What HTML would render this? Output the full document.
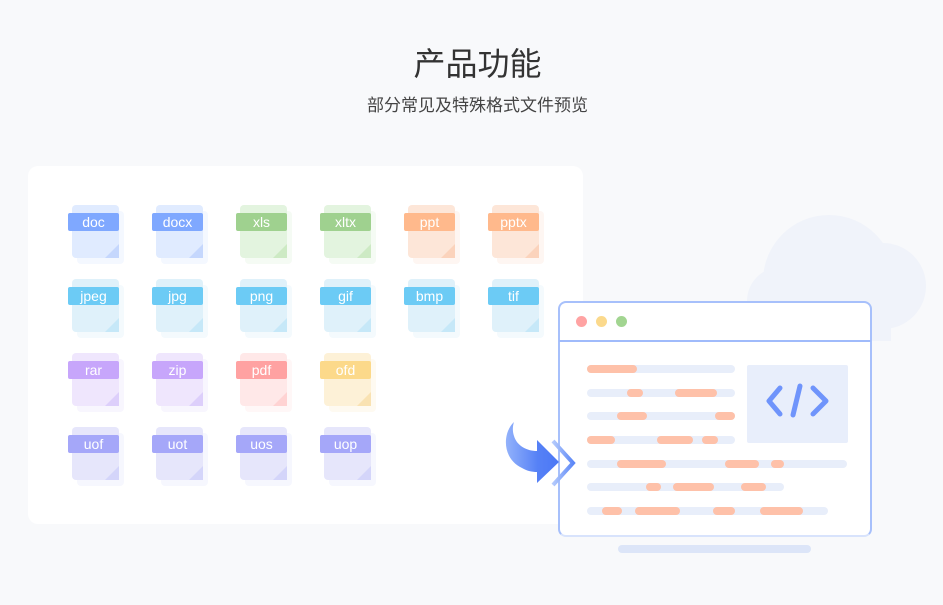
<!DOCTYPE html>
<html><head><meta charset="utf-8"><style>
*{margin:0;padding:0;box-sizing:border-box}
body{width:943px;height:605px;background:#f8f9fb;position:relative;overflow:hidden;font-family:"Liberation Sans","Noto Sans CJK SC",sans-serif}
.t{position:absolute;left:6px;width:943px;text-align:center;color:#333}
.card{position:absolute;left:28px;top:166px;width:555px;height:358px;background:#fff;border-radius:10px}
.f{position:absolute;width:56px;height:60px}
.f .sh{position:absolute;left:9px;top:6px;width:47px;height:53px;border-radius:4px;opacity:.2}
.f .bd{position:absolute;left:4px;top:0;width:47px;height:53px;border-radius:4px}
.f .cn{position:absolute;left:37px;top:39px;width:0;height:0;border-style:solid;border-width:0 0 14px 14px;border-color:transparent transparent #fff transparent}
.f .lb{position:absolute;left:0;top:8px;width:51px;height:18px;border-radius:2px;color:#fff;font-size:14px;line-height:18px;text-align:center}
.g{position:absolute;height:8px;border-radius:4px;background:#e8eefa}
.o{position:absolute;height:8px;border-radius:4px;background:#fec1a9}
</style></head><body>
<div class="t" style="top:44px;font-size:32px;line-height:40px">产品功能</div>
<div class="t" style="top:95px;font-size:17px;line-height:22px;color:#444">部分常见及特殊格式文件预览</div>

<svg style="position:absolute;left:0;top:0" width="943" height="605">
<g fill="#f0f3fa">
<circle cx="829" cy="281" r="66"/>
<circle cx="883" cy="286" r="43"/>
<circle cx="781" cy="301" r="34"/>
<rect x="781" y="300" width="110" height="41"/>
</g>
</svg>

<div class="card"></div>

<div class="f" style="left:68px;top:205px"><div class="sh" style="background:#c8dbff"></div><div class="bd" style="background:#e0ebff"></div><div class="cn" style="border-bottom-color:#c5d7fd"></div><div class="lb" style="background:#7fa8ff">doc</div></div>
<div class="f" style="left:152px;top:205px"><div class="sh" style="background:#c8dbff"></div><div class="bd" style="background:#e0ebff"></div><div class="cn" style="border-bottom-color:#c5d7fd"></div><div class="lb" style="background:#7fa8ff">docx</div></div>
<div class="f" style="left:236px;top:205px"><div class="sh" style="background:#cfeac6"></div><div class="bd" style="background:#e3f4df"></div><div class="cn" style="border-bottom-color:#cdeac4"></div><div class="lb" style="background:#9fd18f">xls</div></div>
<div class="f" style="left:320px;top:205px"><div class="sh" style="background:#cfeac6"></div><div class="bd" style="background:#e3f4df"></div><div class="cn" style="border-bottom-color:#cdeac4"></div><div class="lb" style="background:#9fd18f">xltx</div></div>
<div class="f" style="left:404px;top:205px"><div class="sh" style="background:#fbd3bc"></div><div class="bd" style="background:#fde6d8"></div><div class="cn" style="border-bottom-color:#fbd3bc"></div><div class="lb" style="background:#ffb98c">ppt</div></div>
<div class="f" style="left:488px;top:205px"><div class="sh" style="background:#fbd3bc"></div><div class="bd" style="background:#fde6d8"></div><div class="cn" style="border-bottom-color:#fbd3bc"></div><div class="lb" style="background:#ffb98c">pptx</div></div>

<div class="f" style="left:68px;top:279px"><div class="sh" style="background:#c9e8f7"></div><div class="bd" style="background:#dff1fa"></div><div class="cn" style="border-bottom-color:#c6e8f8"></div><div class="lb" style="background:#6ccbf5">jpeg</div></div>
<div class="f" style="left:152px;top:279px"><div class="sh" style="background:#c9e8f7"></div><div class="bd" style="background:#dff1fa"></div><div class="cn" style="border-bottom-color:#c6e8f8"></div><div class="lb" style="background:#6ccbf5">jpg</div></div>
<div class="f" style="left:236px;top:279px"><div class="sh" style="background:#c9e8f7"></div><div class="bd" style="background:#dff1fa"></div><div class="cn" style="border-bottom-color:#c6e8f8"></div><div class="lb" style="background:#6ccbf5">png</div></div>
<div class="f" style="left:320px;top:279px"><div class="sh" style="background:#c9e8f7"></div><div class="bd" style="background:#dff1fa"></div><div class="cn" style="border-bottom-color:#c6e8f8"></div><div class="lb" style="background:#6ccbf5">gif</div></div>
<div class="f" style="left:404px;top:279px"><div class="sh" style="background:#c9e8f7"></div><div class="bd" style="background:#dff1fa"></div><div class="cn" style="border-bottom-color:#c6e8f8"></div><div class="lb" style="background:#6ccbf5">bmp</div></div>
<div class="f" style="left:488px;top:279px"><div class="sh" style="background:#c9e8f7"></div><div class="bd" style="background:#dff1fa"></div><div class="cn" style="border-bottom-color:#c6e8f8"></div><div class="lb" style="background:#6ccbf5">tif</div></div>

<div class="f" style="left:68px;top:353px"><div class="sh" style="background:#ddd0fb"></div><div class="bd" style="background:#efe6fd"></div><div class="cn" style="border-bottom-color:#ddcffb"></div><div class="lb" style="background:#c7a6fb">rar</div></div>
<div class="f" style="left:152px;top:353px"><div class="sh" style="background:#ddd0fb"></div><div class="bd" style="background:#efe6fd"></div><div class="cn" style="border-bottom-color:#ddcffb"></div><div class="lb" style="background:#c7a6fb">zip</div></div>
<div class="f" style="left:236px;top:353px"><div class="sh" style="background:#ffd6d6"></div><div class="bd" style="background:#ffe8e8"></div><div class="cn" style="border-bottom-color:#ffd3d3"></div><div class="lb" style="background:#ffa2a2">pdf</div></div>
<div class="f" style="left:320px;top:353px"><div class="sh" style="background:#f8e4b8"></div><div class="bd" style="background:#fdf1d7"></div><div class="cn" style="border-bottom-color:#f9e2b2"></div><div class="lb" style="background:#fcd98a">ofd</div></div>

<div class="f" style="left:68px;top:427px"><div class="sh" style="background:#d4d5fa"></div><div class="bd" style="background:#e6e6fb"></div><div class="cn" style="border-bottom-color:#d4d5fa"></div><div class="lb" style="background:#a5a7f9">uof</div></div>
<div class="f" style="left:152px;top:427px"><div class="sh" style="background:#d4d5fa"></div><div class="bd" style="background:#e6e6fb"></div><div class="cn" style="border-bottom-color:#d4d5fa"></div><div class="lb" style="background:#a5a7f9">uot</div></div>
<div class="f" style="left:236px;top:427px"><div class="sh" style="background:#d4d5fa"></div><div class="bd" style="background:#e6e6fb"></div><div class="cn" style="border-bottom-color:#d4d5fa"></div><div class="lb" style="background:#a5a7f9">uos</div></div>
<div class="f" style="left:320px;top:427px"><div class="sh" style="background:#d4d5fa"></div><div class="bd" style="background:#e6e6fb"></div><div class="cn" style="border-bottom-color:#d4d5fa"></div><div class="lb" style="background:#a5a7f9">uop</div></div>

<div style="position:absolute;left:558px;top:301px;width:314px;height:236px;background:#fff;border:2px solid #a7c0fb;border-bottom-color:#d8e3fc;border-radius:8px"></div>
<div style="position:absolute;left:559px;top:340px;width:312px;height:2px;background:#a0bbfb"></div>
<div style="position:absolute;left:576px;top:316px;width:11px;height:11px;border-radius:50%;background:#ffa3a3"></div>
<div style="position:absolute;left:596px;top:316px;width:11px;height:11px;border-radius:50%;background:#fbd98c"></div>
<div style="position:absolute;left:616px;top:316px;width:11px;height:11px;border-radius:50%;background:#a2d591"></div>
<div style="position:absolute;left:747px;top:365px;width:101px;height:78px;background:#e8eefb;border-radius:2px"></div>
<svg style="position:absolute;left:747px;top:365px" width="101" height="78">
<g fill="none" stroke="#6f94fb" stroke-width="5" stroke-linecap="round" stroke-linejoin="round">
<polyline points="33,23 22,36 33,49"/><line x1="53" y1="21" x2="46" y2="50"/><polyline points="66,23 79,36 66,49"/></g></svg>

<div class="g" style="left:587px;top:365px;width:148px"></div><div class="o" style="left:587px;top:365px;width:50px"></div>
<div class="g" style="left:587px;top:389px;width:148px"></div><div class="o" style="left:627px;top:389px;width:16px"></div><div class="o" style="left:675px;top:389px;width:42px"></div>
<div class="g" style="left:587px;top:412px;width:148px"></div><div class="o" style="left:617px;top:412px;width:30px"></div><div class="o" style="left:715px;top:412px;width:20px"></div>
<div class="g" style="left:587px;top:436px;width:148px"></div><div class="o" style="left:587px;top:436px;width:28px"></div><div class="o" style="left:657px;top:436px;width:36px"></div><div class="o" style="left:702px;top:436px;width:16px"></div>
<div class="g" style="left:587px;top:460px;width:260px"></div><div class="o" style="left:617px;top:460px;width:49px"></div><div class="o" style="left:725px;top:460px;width:34px"></div><div class="o" style="left:771px;top:460px;width:13px"></div>
<div class="g" style="left:587px;top:483px;width:197px"></div><div class="o" style="left:646px;top:483px;width:15px"></div><div class="o" style="left:673px;top:483px;width:41px"></div><div class="o" style="left:741px;top:483px;width:25px"></div>
<div class="g" style="left:587px;top:507px;width:241px"></div><div class="o" style="left:602px;top:507px;width:20px"></div><div class="o" style="left:635px;top:507px;width:45px"></div><div class="o" style="left:713px;top:507px;width:22px"></div><div class="o" style="left:760px;top:507px;width:43px"></div>
<div style="position:absolute;left:618px;top:545px;width:193px;height:8px;border-radius:4px;background:#dce5f8"></div>

<svg style="position:absolute;left:0;top:0" width="943" height="605">
<defs><linearGradient id="ag" x1="0" x2="1"><stop offset="0" stop-color="#93b2fb"/><stop offset="0.6" stop-color="#5681f6"/><stop offset="1" stop-color="#4b78f5"/></linearGradient>
<linearGradient id="cg" x1="0" x2="1"><stop offset="0" stop-color="#b5cbfc"/><stop offset="1" stop-color="#5d88f7"/></linearGradient></defs>
<path d="M514,422 C503,432 501,458 522,468 C527,471 532,472 537,472 L537,483 L559,462 L537,440 L537,451 C527,451 517,446 514,436 C512,430 513,425 514,422 Z" fill="url(#ag)"/>
<polyline points="553,441 573,463 553,485" fill="none" stroke="url(#cg)" stroke-width="4" stroke-linejoin="miter"/>
</svg>
</body></html>
